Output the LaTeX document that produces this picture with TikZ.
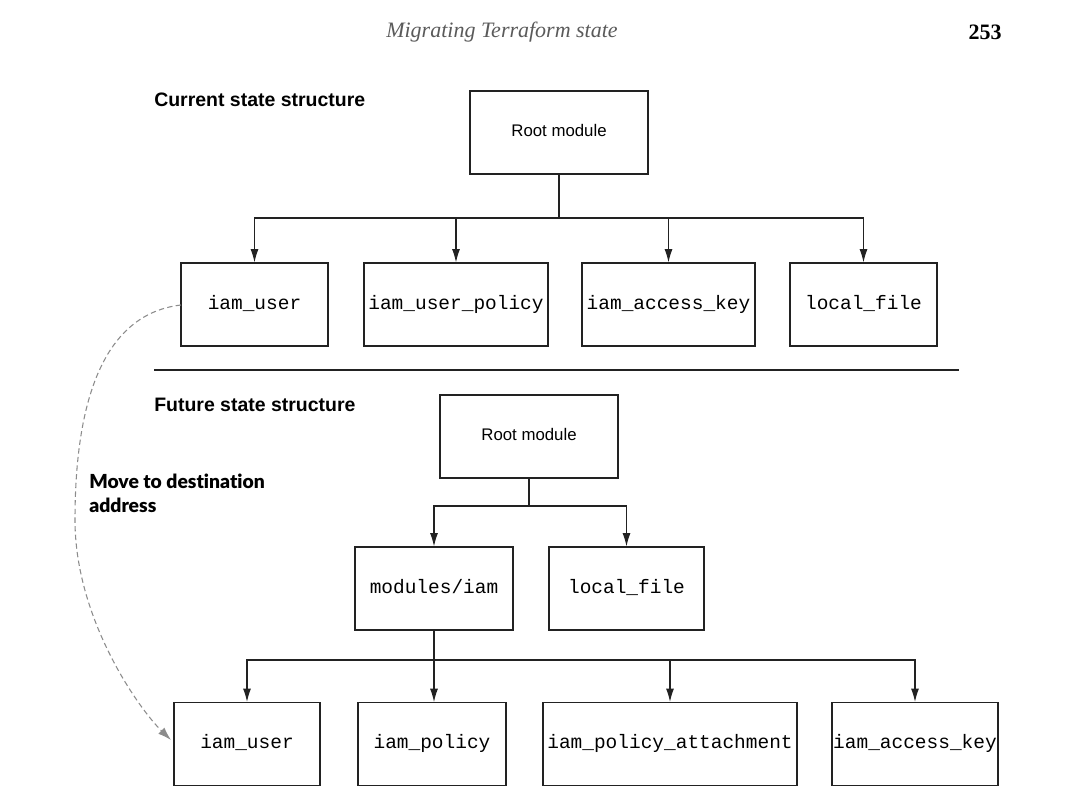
\documentclass[tikz,border=0pt]{standalone}
\usepackage{fontspec}
\setmainfont{Liberation Serif}
\newfontfamily\arialf{Liberation Sans}
\newfontfamily\courf{Liberation Mono}
\newfontfamily\latof{Lato}[Ligatures=NoCommon,BoldFont={Lato Black}]
\usetikzlibrary{arrows.meta}
\definecolor{linec}{HTML}{222222}
\definecolor{dashc}{HTML}{8C8C8C}
\definecolor{headc}{HTML}{5A5A5A}
\begin{document}
\begin{tikzpicture}[x=0.75pt,y=-0.75pt,
  box/.style={draw=linec,line width=0.9pt,inner sep=0pt,minimum height=62.25pt,text height=9pt,text depth=2.2pt,font=\courf\fontsize{14.6}{16}\selectfont,text=black},
  rootbox/.style={box,text height=9pt,text depth=2.6pt,font=\arialf\fontsize{12.6}{15}\selectfont},
  conn/.style={draw=linec,line width=0.8pt},
  arr/.style={conn,-{Latex[length=10pt,width=6pt]}},
  heading/.style={anchor=west,inner sep=0pt,font=\arialf\bfseries\fontsize{14.6}{17}\selectfont},
  moveto/.style={dashc,line width=0.8pt,dash pattern=on 4pt off 2.5pt,-{Latex[length=10pt,width=6.5pt]}}
]
\useasboundingbox (0,0) rectangle (1065,807);
% header
\node[inner sep=0pt,text=headc,font=\itshape\fontsize{16.5}{19}\selectfont] (title) at (502,32) {Migrating Terraform state};
\node[inner sep=0pt,anchor=east,font=\bfseries\fontsize{16.5}{19}\selectfont] (page) at (1002,32) {253};
% current
\node[heading] (h1) at (154,100) {Current state structure};
\node[rootbox,minimum width=133.5pt] (r1) at (559,132.5) {Root module};
\node[box,minimum width=110.25pt] (u1) at (254.5,304.5) {iam\_user};
\node[box,minimum width=138pt] (up1) at (456,304.5) {iam\_user\_policy};
\node[box,minimum width=129.75pt] (ak1) at (668.5,304.5) {iam\_access\_key};
\node[box,minimum width=110.25pt] (lf1) at (863.5,304.5) {local\_file};
\coordinate (bus1) at (559,218);
\draw[conn] (r1) -- (bus1);
\draw[arr] (bus1) -| (u1);
\draw[arr] (bus1) -| (up1);
\draw[arr] (bus1) -| (ak1);
\draw[arr] (bus1) -| (lf1);
% separator
\coordinate (sepL) at (154,370);
\coordinate (sepR) at (959,370);
\draw[conn] (sepL) -- (sepR);
% future
\node[heading] (h2) at (154,405) {Future state structure};
\node[rootbox,minimum width=133.5pt] (r2) at (529,436.5) {Root module};
\node[box,minimum width=118.5pt] (mi) at (434,588.5) {modules/iam};
\node[box,minimum width=116.25pt] (lf2) at (626.5,588.5) {local\_file};
\coordinate (bus2) at (529,506);
\draw[conn] (r2) -- (bus2);
\draw[arr] (bus2) -| (mi);
\draw[arr] (bus2) -| (lf2);
\node[box,minimum width=109.5pt] (u2) at (247,744) {iam\_user};
\node[box,minimum width=111pt] (ip) at (432,744) {iam\_policy};
\node[box,minimum width=190.5pt] (ipa) at (670,744) {iam\_policy\_attachment};
\node[box,minimum width=124.5pt] (ak2) at (915,744) {iam\_access\_key};
\coordinate (bus3) at (434,660);
\coordinate (ipt) at (434,702);
\draw[conn] (mi) -- (bus3);
\draw[arr] (bus3) -| (u2);
\draw[arr] (bus3) -- (ipt);
\draw[arr] (bus3) -| (ipa);
\draw[arr] (bus3) -| (ak2);
% move
\node[anchor=north west,inner sep=0pt,align=left,font=\latof\bfseries\fontsize{14.5}{18}\selectfont] (mv) at (89,474) {Move to destination\\address};
\coordinate (mstart) at (181,305);
\coordinate (mend) at (171,740);
\draw[moveto] (mstart) .. controls (95,315) and (75,420) .. (75,520) .. controls (75,620) and (140,710) .. (mend);
\end{tikzpicture}
\end{document}
